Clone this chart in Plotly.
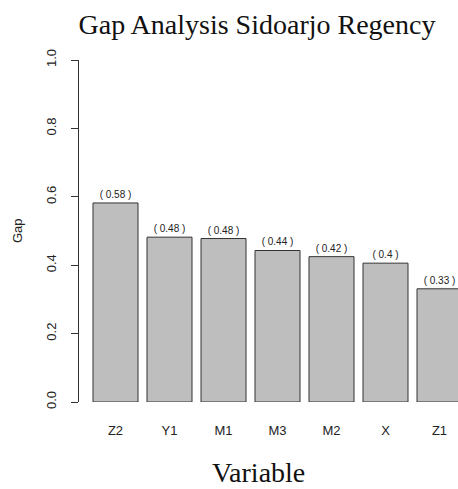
import plotly.graph_objects as go

categories = ["Z2", "Y1", "M1", "M3", "M2", "X", "Z1"]
gap_values = [0.582, 0.482, 0.478, 0.443, 0.425, 0.406, 0.331]
gap_labels = ["0.58", "0.48", "0.48", "0.44", "0.42", "0.4", "0.33"]
y_ticks = [0.0, 0.2, 0.4, 0.6, 0.8, 1.0]

W, H = 458, 489
L, T, B = 79, 60, 87
plot_w = W - L
plot_h = H - T - B
Y0 = 402      # pixel of y=0
CX0 = 115.5   # center of first bar

fig = go.Figure(go.Bar(
    x=categories,
    y=gap_values,
    text=["( " + s + " )" for s in gap_labels],
    textposition="outside",
    cliponaxis=False,
    textfont=dict(family="Liberation Sans, Arial, sans-serif", size=10, color="#222"),
    marker=dict(color="#BEBEBE", line=dict(color="#333333", width=1)),
    hoverinfo="skip",
))

fig.update_layout(
    width=W, height=H,
    margin=dict(l=L, r=0, t=T, b=B, pad=0),
    plot_bgcolor="white", paper_bgcolor="white",
    bargap=1 - 45 / 54,
    showlegend=False,
    font=dict(family="Liberation Sans, Arial, sans-serif", color="#222"),
    title=dict(
        text="Gap Analysis Sidoarjo Regency",
        font=dict(family="Liberation Serif, Times New Roman, serif", size=28, color="#111"),
        x=257 / W, xanchor="center", xref="container",
        y=1 - 24 / H, yanchor="middle", yref="container",
    ),
)

fig.update_xaxes(
    type="category",
    range=[(L - CX0) / 54, (W - CX0) / 54],
    showline=False, showgrid=False, zeroline=False,
    ticks="outside", ticklen=0, ticklabelstandoff=16,
    tickfont=dict(size=13, color="#222"),
)

fig.update_yaxes(
    range=[0, 1],
    tickvals=y_ticks,
    ticktext=[f"{v:.1f}" for v in y_ticks],
    tickangle=-90,
    showline=True, linecolor="#333", linewidth=1,
    ticks="outside", ticklen=7, tickcolor="#333", tickwidth=1,
    ticklabelstandoff=10,
    showgrid=False, zeroline=False,
    tickfont=dict(size=13, color="#222"),
)

fig.add_annotation(
    text="Variable", xref="paper", yref="paper",
    x=(258 - L) / plot_w, y=(Y0 - 472) / plot_h,
    xanchor="center", yanchor="middle", showarrow=False,
    font=dict(family="Liberation Serif, Times New Roman, serif", size=28, color="#111"),
)
fig.add_annotation(
    text="Gap", xref="paper", yref="paper",
    x=(17 - L) / plot_w, y=0.5, textangle=-90,
    xanchor="center", yanchor="middle", showarrow=False,
    font=dict(size=13, color="#222"),
)

fig.write_html(
    "out.html",
    config={"displayModeBar": False, "staticPlot": True},
    post_script=(
        "document.body.style.margin='0';"
        "document.body.style.overflow='hidden';"
        "document.documentElement.style.overflow='hidden';"
    ),
)
